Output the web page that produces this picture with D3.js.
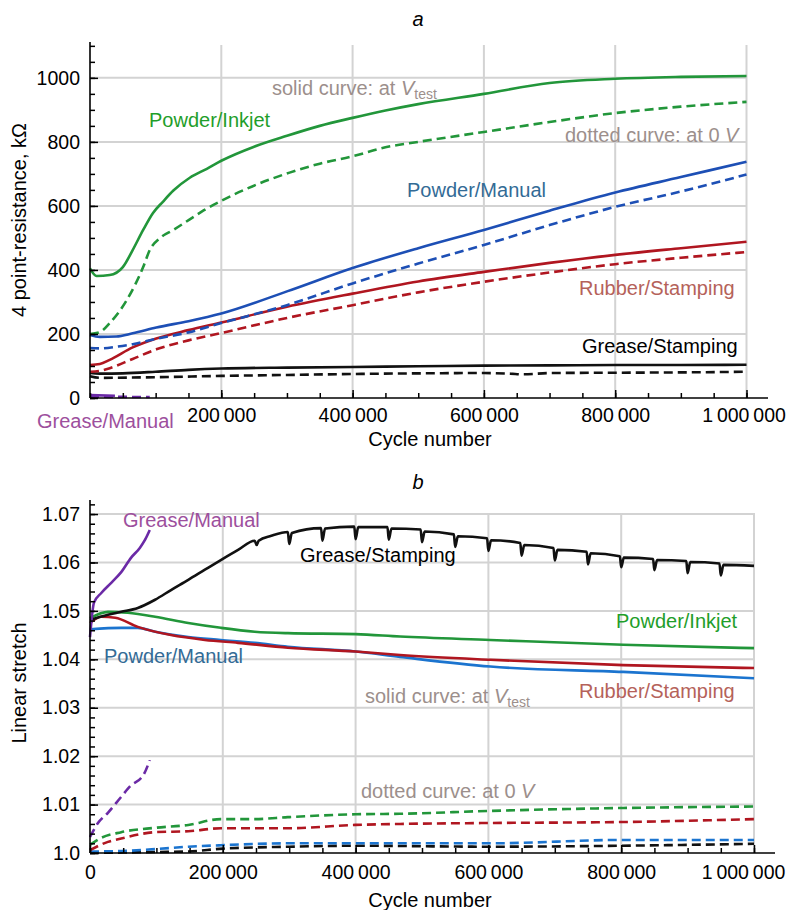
<!DOCTYPE html>
<html>
<head>
<meta charset="utf-8">
<script src="https://cdn.jsdelivr.net/npm/d3@7"></script>
<style>
body { margin: 0; background: #fff; }
svg { font-family: "Liberation Sans", Arial, sans-serif; }
</style>
</head>
<body>
<svg id="fig" width="789" height="910"></svg>
<script>
// ---- panel a : 4 point resistance (kOhm) vs cycle number ----
var inkjetRes = [[0,405],[10000,381],[30000,384],[50000,409],[65000,462],[81000,525],[96000,578],[111000,613],[127000,648],[152000,688],[178000,716],[200000,741],[250000,785],[300000,819],[350000,850],[400000,875],[450000,898],[500000,918],[600000,950],[700000,984],[800000,997],[900000,1003],[1000000,1006]];
var inkjetRes0 = [[0,200],[15000,206],[30000,234],[56000,306],[81000,409],[91000,462],[107000,500],[127000,525],[152000,558],[173000,586],[200000,616],[253000,666],[304000,704],[350000,732],[400000,755],[450000,783],[500000,800],[600000,831],[700000,862],[800000,890],[900000,910],[1000000,925]];
var manualRes = [[0,197],[15000,191],[40000,192],[65000,202],[101000,220],[150000,240],[200000,264],[300000,333],[400000,406],[500000,468],[600000,525],[700000,585],[800000,642],[900000,690],[1000000,738]];
var manualRes0 = [[0,156],[15000,155],[40000,160],[65000,168],[101000,185],[150000,205],[200000,234],[300000,290],[400000,358],[500000,420],[600000,478],[700000,540],[800000,597],[900000,645],[1000000,698]];
var rubberRes = [[0,103],[15000,106],[30000,119],[65000,158],[101000,186],[150000,212],[200000,236],[300000,285],[400000,326],[500000,364],[600000,394],[700000,422],[800000,447],[900000,468],[1000000,488]];
var rubberRes0 = [[0,82],[15000,85],[30000,93],[65000,122],[101000,152],[150000,180],[200000,203],[300000,250],[400000,290],[500000,330],[600000,363],[700000,392],[800000,418],[900000,438],[1000000,456]];
var greaseStampRes = [[0,78],[15000,76],[50000,77],[100000,82],[150000,88],[200000,92],[300000,95],[400000,97],[500000,99],[600000,101],[700000,102],[800000,103],[900000,103],[1000000,104]];
var greaseStampRes0 = [[0,68],[15000,63],[100000,65],[200000,69],[300000,72],[400000,75],[500000,77],[600000,78],[640000,76],[660000,74],[700000,78],[800000,79],[900000,80],[1000000,82]];
var greaseManRes = [[0,9],[38000,7]];
var greaseManRes0 = [[0,4],[91000,3]];

// ---- panel b : linear stretch vs cycle number ----
var greaseManStretch = [[0,1.0446],[6000,1.0517],[17000,1.0537],[32000,1.0558],[47000,1.0580],[62000,1.0610],[75000,1.0630],[83000,1.0647],[90000,1.0667]];
var greaseManStretch0 = [[0,1.0033],[12000,1.0062],[27000,1.0083],[47000,1.0116],[62000,1.0140],[77000,1.0155],[82000,1.0165],[90000,1.0192]];
var greaseStampStretch = [[0,1.0481],[27000,1.0492],[47000,1.0498],[72000,1.0506],[98000,1.0523],[122000,1.0543],[148000,1.0564],[173000,1.0585],[197000,1.0605],[223000,1.0626],[248000,1.0645],[251000,1.0636],[254000,1.0645],[273000,1.0655],
  [298000,1.0663],[300000,1.0638],[304000,1.0661],[348000,1.0671],[350000,1.0645],[354000,1.0670],[398000,1.0674],[400000,1.0648],[404000,1.0673],
  [448000,1.0673],[450000,1.0647],[454000,1.0670],[498000,1.0668],[500000,1.0642],[504000,1.0664],[548000,1.0658],[550000,1.0632],[554000,1.0654],
  [598000,1.0650],[600000,1.0624],[604000,1.0646],[648000,1.0640],[650000,1.0614],[654000,1.0636],[698000,1.0630],[700000,1.0604],[704000,1.0626],
  [748000,1.0622],[750000,1.0596],[754000,1.0619],[798000,1.0613],[800000,1.0590],[804000,1.0610],[848000,1.0607],[850000,1.0584],[854000,1.0605],
  [898000,1.0603],[900000,1.0578],[904000,1.0601],[948000,1.0598],[950000,1.0573],[954000,1.0595],[1000000,1.0593]];
var greaseStampStretch0 = [[0,1.0000],[98000,1.0002],[146000,1.0003],[200000,1.0009],[300000,1.0013],[400000,1.0015],[600000,1.0013],[800000,1.0015],[1000000,1.0019]];
var inkjetStretch = [[0,1.0485],[27000,1.0498],[57000,1.0496],[98000,1.0488],[148000,1.0475],[197000,1.0465],[248000,1.0457],[298000,1.0454],[400000,1.0452],[467000,1.0447],[603000,1.0440],[803000,1.0430],[1000000,1.0423]];
var inkjetStretch0 = [[0,1.0017],[15000,1.0030],[47000,1.0043],[98000,1.0052],[148000,1.0058],[197000,1.0070],[248000,1.0070],[298000,1.0074],[400000,1.0080],[467000,1.0081],[603000,1.0087],[803000,1.0093],[1000000,1.0096]];
var manualStretch = [[0,1.0462],[47000,1.0465],[72000,1.0465],[98000,1.0457],[148000,1.0446],[197000,1.0440],[248000,1.0434],[298000,1.0426],[400000,1.0416],[467000,1.0405],[603000,1.0385],[803000,1.0374],[1000000,1.0361]];
var manualStretch0 = [[0,1.0003],[47000,1.0004],[98000,1.0008],[148000,1.0013],[197000,1.0016],[298000,1.0020],[467000,1.0020],[603000,1.0020],[803000,1.0027],[1000000,1.0027]];
var rubberStretch = [[0,1.0475],[17000,1.0488],[38000,1.0486],[72000,1.0467],[122000,1.0450],[173000,1.0440],[223000,1.0434],[298000,1.0424],[400000,1.0416],[467000,1.0409],[603000,1.0399],[803000,1.0388],[1000000,1.0382]];
var rubberStretch0 = [[0,1.0006],[27000,1.0023],[47000,1.0030],[98000,1.0043],[148000,1.0045],[197000,1.0051],[298000,1.0051],[400000,1.0058],[467000,1.0060],[603000,1.0062],[803000,1.0064],[1000000,1.0070]];

var resTicks = [0, 200, 400, 600, 800, 1000];
var stretchTicks = [1.0, 1.01, 1.02, 1.03, 1.04, 1.05, 1.06, 1.07];
var stretchTickLabels = ["1.0", "1.01", "1.02", "1.03", "1.04", "1.05", "1.06", "1.07"];
var cycleTicks = [200000, 400000, 600000, 800000, 1000000];
var cycleTicksB = [0, 200000, 400000, 600000, 800000, 1000000];

var C = {
  green: "#22963a", blue: "#1d4fb5", blueB: "#1b74cf", red: "#b01620", black: "#111", purple: "#6b2aa6",
  tGreen: "#1f9e2a", tBlue: "#336b96", tRed: "#b5625a", tPurple: "#9d4f9d", tGrey: "#9c8f8c", grid: "#d3d3d3"
};

var svg = d3.select("#fig");
var fs = 20;

function fmtCycle(d) {
  // thin spaces as thousands separators
  return d3.format(",")(d).replace(/,/g, "\u2009");
}

function panel(o) {
  var g = svg.append("g");
  var x = d3.scaleLinear().domain([0, 1000000]).range(o.xr);
  var y = d3.scaleLinear().domain(o.yd).range(o.yr);

  // gridlines
  g.selectAll(".hg").data(o.hgrid).enter().append("line")
    .attr("x1", x(0)).attr("x2", x(1000000))
    .attr("y1", function(d) { return y(d); }).attr("y2", function(d) { return y(d); })
    .attr("stroke", C.grid).attr("stroke-width", 2);
  g.selectAll(".vg").data(cycleTicks).enter().append("line")
    .attr("x1", function(d) { return x(d); }).attr("x2", function(d) { return x(d); })
    .attr("y1", o.vgTop).attr("y2", y(o.yd[0]))
    .attr("stroke", C.grid).attr("stroke-width", 2);

  // curves
  var line = d3.line().x(function(d) { return x(d[0]); }).y(function(d) { return y(d[1]); }).curve(d3.curveMonotoneX);
  o.series.forEach(function(s) {
    g.append("path").datum(s.data)
      .attr("d", line)
      .attr("fill", "none")
      .attr("stroke", s.color)
      .attr("stroke-width", 2.6)
      .attr("stroke-dasharray", s.dash ? "9,5" : null)
      .attr("stroke-linejoin", "round");
  });

  // axes: minor ticks then major
  var xMinor = d3.axisBottom(x).tickValues(d3.range(0, 1000001, 50000)).tickSize(-5).tickFormat("");
  var xMajor = d3.axisBottom(x).tickValues(o.xticks).tickSize(-8).tickPadding(o.xpad).tickFormat(fmtCycle);
  var ax = g.append("g").attr("transform", "translate(0," + y(o.yd[0]) + ")");
  ax.append("g").call(xMinor);
  ax.append("g").call(xMajor);
  var yMinor = d3.axisLeft(y).tickValues(o.yminor).tickSize(-5).tickFormat("");
  var yMajor = d3.axisLeft(y).tickValues(o.yticks).tickSize(-8).tickPadding(10)
    .tickFormat(function(d, i) { return o.ylabels ? o.ylabels[i] : d; });
  var ay = g.append("g").attr("transform", "translate(" + x(0) + ",0)");
  ay.append("g").call(yMinor);
  ay.append("g").call(yMajor);
  g.selectAll(".domain").remove();
  g.selectAll(".tick line").attr("stroke", "#000").attr("stroke-width", 1.5);
  g.selectAll(".tick text").attr("font-size", 19.5).attr("fill", "#000").attr("font-family", "Liberation Sans, Arial, sans-serif");
  ax.selectAll(".tick text").filter(function(d) { return d === 1000000; }).attr("dx", o.lastDx);

  // axis lines
  g.append("line").attr("x1", x(0)).attr("x2", o.xEnd).attr("y1", y(o.yd[0])).attr("y2", y(o.yd[0]))
    .attr("stroke", "#000").attr("stroke-width", 1.6);
  g.append("line").attr("x1", x(0)).attr("x2", x(0)).attr("y1", y(o.yd[0])).attr("y2", y(o.yd[1]))
    .attr("stroke", "#000").attr("stroke-width", 1.6);

  // titles
  g.append("text").attr("x", 430).attr("y", o.xTitleY).attr("text-anchor", "middle").attr("font-size", fs).text("Cycle number");
  g.append("text").attr("transform", "translate(26," + o.yTitleC + ") rotate(-90)").attr("text-anchor", "middle").attr("font-size", fs).text(o.yTitle);
  g.append("text").attr("x", 418).attr("y", o.letterY).attr("text-anchor", "middle").attr("font-size", fs).attr("font-style", "italic").text(o.letter);

  // curve labels
  o.labels.forEach(function(l) {
    g.append("text").attr("x", l[0]).attr("y", l[1]).attr("fill", l[3]).attr("font-size", fs).text(l[2]);
  });
  var s1 = g.append("text").attr("x", o.solidNote[0]).attr("y", o.solidNote[1]).attr("fill", C.tGrey).attr("font-size", fs);
  s1.append("tspan").text("solid curve: at ");
  s1.append("tspan").attr("font-style", "italic").text("V");
  s1.append("tspan").attr("font-size", 14).attr("dy", 4).text("test");
  var s2 = g.append("text").attr("x", o.dotNote[0]).attr("y", o.dotNote[1]).attr("fill", C.tGrey).attr("font-size", fs);
  s2.append("tspan").text("dotted curve: at 0 ");
  s2.append("tspan").attr("font-style", "italic").text("V");
}

panel({
  xr: [90, 746.5], yd: [0, 1112], yr: [398, 42], vgTop: 45, xEnd: 768, lastDx: -3,
  hgrid: [200, 400, 600, 800, 1000],
  xticks: cycleTicks, xpad: 10,
  yticks: resTicks, yminor: d3.range(0, 1101, 50),
  xTitleY: 446, yTitleC: 220, yTitle: "4 point-resistance, k\u03a9",
  letter: "a", letterY: 26,
  series: [
    { data: greaseStampRes, color: C.black }, { data: greaseStampRes0, color: C.black, dash: true },
    { data: rubberRes, color: C.red }, { data: rubberRes0, color: C.red, dash: true },
    { data: manualRes, color: C.blue }, { data: manualRes0, color: C.blue, dash: true },
    { data: inkjetRes, color: C.green }, { data: inkjetRes0, color: C.green, dash: true },
    { data: greaseManRes, color: C.purple }, { data: greaseManRes0, color: C.purple, dash: true }
  ],
  labels: [
    [149, 127, "Powder/Inkjet", C.tGreen], [407, 197, "Powder/Manual", C.tBlue],
    [579, 295, "Rubber/Stamping", C.tRed], [582, 353, "Grease/Stamping", "#000"],
    [37, 428, "Grease/Manual", C.tPurple]
  ],
  solidNote: [272, 95], dotNote: [565, 142]
});

panel({
  xr: [90, 754], yd: [1.0, 1.0729], yr: [853, 500], vgTop: 513, xEnd: 775, lastDx: -11,
  hgrid: [1.01, 1.02, 1.03, 1.04, 1.05, 1.06, 1.07],
  xticks: cycleTicksB, xpad: 12,
  yticks: stretchTicks, ylabels: stretchTickLabels, yminor: d3.range(0, 37).map(function(i) { return 1 + i * 0.002; }),
  xTitleY: 907, yTitleC: 683, yTitle: "Linear stretch",
  letter: "b", letterY: 489,
  series: [
    { data: greaseStampStretch0, color: C.black, dash: true }, { data: manualStretch0, color: C.blueB, dash: true },
    { data: rubberStretch0, color: C.red, dash: true }, { data: inkjetStretch0, color: C.green, dash: true },
    { data: greaseManStretch0, color: C.purple, dash: true },
    { data: manualStretch, color: C.blueB }, { data: rubberStretch, color: C.red },
    { data: inkjetStretch, color: C.green }, { data: greaseStampStretch, color: C.black },
    { data: greaseManStretch, color: C.purple }
  ],
  labels: [
    [123, 527, "Grease/Manual", C.tPurple], [300, 562, "Grease/Stamping", "#000"],
    [616, 628, "Powder/Inkjet", C.tGreen], [104, 663, "Powder/Manual", C.tBlue],
    [579, 698, "Rubber/Stamping", C.tRed]
  ],
  solidNote: [365, 703], dotNote: [361, 798]
});
</script>
</body>
</html>
